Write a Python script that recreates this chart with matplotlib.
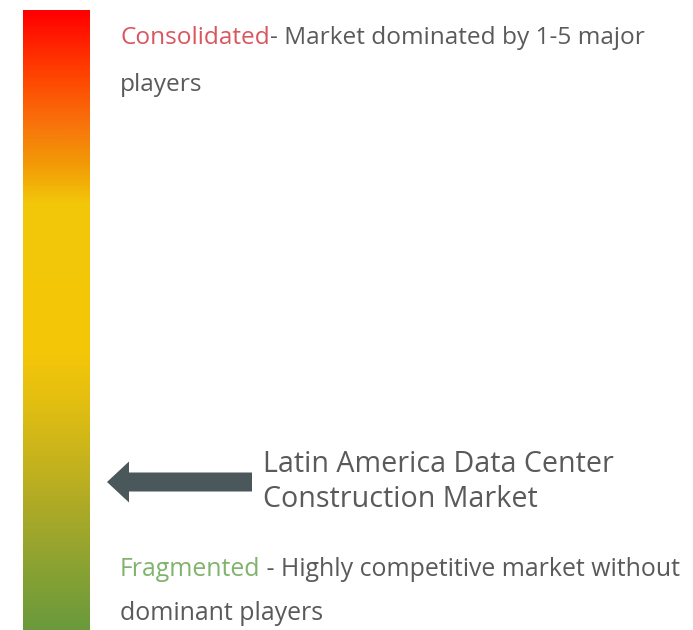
import matplotlib.pyplot as plt
import numpy as np
from matplotlib.colors import LinearSegmentedColormap
from matplotlib.patches import FancyArrow

# gradient stops, top (0) to bottom (1)
stop_pos = [0.0, 0.10, 0.18, 0.25, 0.31, 0.55, 0.62, 0.72, 0.80, 0.90, 1.0]
stop_colors = ['#ff0000', '#ff4200', '#f8720c', '#f29c06', '#f2c70a', '#f4c708',
               '#e6c010', '#c8b41c', '#aeaa26', '#8aa232', '#6a9a3c']

top_label = 'Consolidated'
top_text = '- Market dominated by 1-5 major'
top_text2 = 'players'
bottom_label = 'Fragmented'
bottom_text = ' - Highly competitive market without'
bottom_text2 = 'dominant players'
market_name = 'Latin America Data Center\nConstruction Market'

grey = '#5a5a5a'
plt.rcParams['font.family'] = ['Open Sans', 'DejaVu Sans']

fig = plt.figure(figsize=(6.93, 6.30), dpi=100)
ax = fig.add_axes([0, 0, 1, 1])
ax.set_xlim(0, 693)
ax.set_ylim(630, 0)
ax.set_axis_off()

cmap = LinearSegmentedColormap.from_list('scale', list(zip(stop_pos, stop_colors)))
grad = np.linspace(0, 1, 400).reshape(-1, 1)
ax.imshow(grad, cmap=cmap, aspect='auto', extent=(23, 90, 631, 10), interpolation='bilinear')

# arrow pointing at the scale
ax.add_patch(FancyArrow(252, 482, -145, 0, width=19, head_width=41, head_length=22,
                        length_includes_head=True, color='#4b585b', lw=0))

fs = 17.6
t1 = ax.text(120, 38, top_label, color='#d9565f', fontsize=fs, va='center')
ax.annotate(top_text, xy=(1, 0), xycoords=t1, va='bottom', color=grey, fontsize=fs)
ax.text(120, 85, top_text2, color=grey, fontsize=fs, va='center')

ax.text(263, 482, market_name, color=grey, fontsize=20.6, va='center', linespacing=1.25)

fs2 = 17.9
t2 = ax.text(120, 570, bottom_label, color='#80b46c', fontsize=fs2, va='center')
ax.annotate(bottom_text, xy=(1, 0), xycoords=t2, va='bottom', color=grey, fontsize=fs2)
ax.text(120, 614, bottom_text2, color=grey, fontsize=fs2, va='center')

plt.savefig('out.png', dpi=100)
plt.close()
